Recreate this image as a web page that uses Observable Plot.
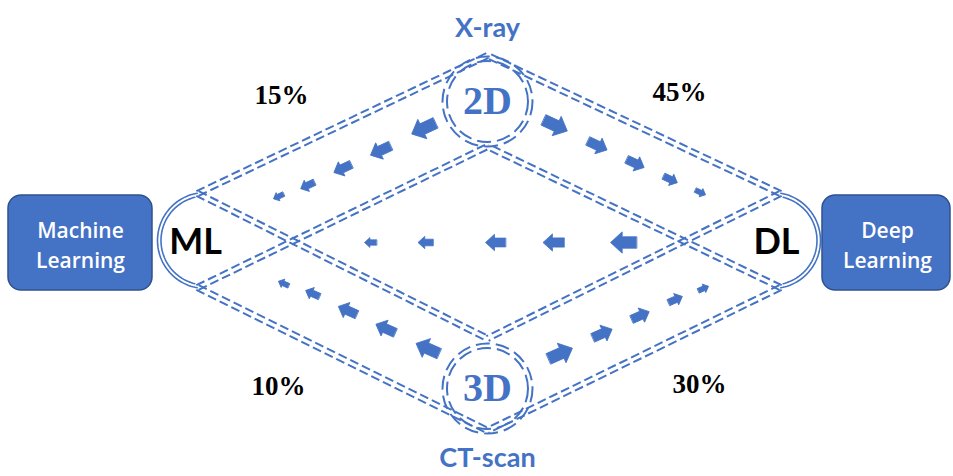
<!DOCTYPE html>
<html><head><meta charset="utf-8">
<script src="https://cdn.jsdelivr.net/npm/d3@7"></script>
<script src="https://cdn.jsdelivr.net/npm/@observablehq/plot@0.6"></script>
<style>body{margin:0;background:#fff}#chart svg{display:block}</style>
</head><body><div id="chart"></div>
<script>
// ---- content ----
const boxLabels = ["Machine\nLearning", "Deep\nLearning"];
const hubLabels = ["ML", "DL"];
const modalityLabels = ["2D", "3D"];
const sourceLabels = ["X-ray", "CT-scan"];
const shareLabels = ["15%", "45%", "10%", "30%"];
// arrow sizes per flow (largest near the source)
const flowTopLeft = [26, 22, 19, 15, 11];
const flowTopRight = [26, 21, 19, 15, 11];
const flowMiddle = [26, 21, 20, 15, 12];
const flowBottomLeft = [25, 21, 20, 15, 11];
const flowBottomRight = [26, 21, 19, 15, 11];

// ---- layout (pixel positions in a 953x476 frame) ----
const BLUE = "#4472C4";
const boxPos = [[8, 152, 195, 290], [822, 950, 195, 290]];
const boxTextPos = [[80, 243], [887, 243]];
const hubPos = [[195, 242], [776, 242]];
const modalityPos = [[487, 101], [487, 388]];
const sourcePos = [[487, 28], [487, 458]];
const sharePos = [[281, 95], [679, 92], [278, 386], [699, 384]];
const P = {mlTop: [197, 193], mlBot: [197, 287], dlTop: [780, 193], dlBot: [780, 287],
           d2Top: [487, 55], d2Bot: [487, 146], d3Top: [487, 338], d3Bot: [487, 430]};
const segments = [["mlTop","d2Top"],["mlTop","d3Top"],["mlBot","d3Bot"],["mlBot","d2Bot"],
                  ["dlTop","d2Top"],["dlTop","d3Top"],["dlBot","d2Bot"],["dlBot","d3Bot"]];
const flowPos = {
  tl: [[423,128],[380,150],[342,168],[307,185],[278,196]],
  tr: [[555,125],[597,145],[635,163],[670,179],[700,192]],
  md: [[623,242],[553,242],[495,242],[425,242],[370,242]],
  bl: [[427,348],[385,328],[347,310],[312,293],[283,283]],
  br: [[560,353],[602,333],[640,315],[675,299],[703,288]]
};
const flowAngle = {tl: 245, tr: 115, md: 270, bl: 294, br: 66};

// ---- derived geometry ----
const links = [];
for (const [a, b] of segments) {
  const [x1, y1] = P[a], [x2, y2] = P[b];
  const len = Math.hypot(x2 - x1, y2 - y1), nx = -(y2 - y1) / len, ny = (x2 - x1) / len;
  for (const o of [-2.6, 2.6]) links.push({x1: x1 + nx*o, y1: y1 + ny*o, x2: x2 + nx*o, y2: y2 + ny*o});
}
function arc(cx, cy, r, a0, a1, id) {
  const pts = [];
  for (let i = 0; i <= 60; i++) {
    const t = (a0 + (a1 - a0) * i / 60) * Math.PI / 180;
    pts.push({x: cx + r * Math.cos(t), y: cy + r * Math.sin(t), id});
  }
  return pts;
}
const arcs = [
  ...arc(205, 240, 48, 100, 260, "a"), ...arc(205, 240, 44.5, 104, 256, "b"),
  ...arc(772, 240, 48, -80, 80, "c"), ...arc(772, 240, 44.5, -76, 76, "d")
];
const flows = [];
for (const [k, sizes] of [["tl", flowTopLeft], ["tr", flowTopRight], ["md", flowMiddle], ["bl", flowBottomLeft], ["br", flowBottomRight]]) {
  sizes.forEach((s, i) => flows.push({x: flowPos[k][i][0], y: flowPos[k][i][1], length: s, rotate: flowAngle[k]}));
}
const blockArrow = {
  draw(ctx, l) {
    const w = l * 0.44, hw = l * 0.82, h = l * 0.45;
    ctx.moveTo(-w/2, 0); ctx.lineTo(-w/2, -(l-h)); ctx.lineTo(-hw/2, -(l-h)); ctx.lineTo(0, -l);
    ctx.lineTo(hw/2, -(l-h)); ctx.lineTo(w/2, -(l-h)); ctx.lineTo(w/2, 0); ctx.closePath();
  }
};

const boxes = boxLabels.map((t, i) => ({x1: boxPos[i][0], x2: boxPos[i][1], y1: boxPos[i][2], y2: boxPos[i][3], label: t, tx: boxTextPos[i][0], ty: boxTextPos[i][1]}));
const hubs = hubLabels.map((t, i) => ({x: hubPos[i][0], y: hubPos[i][1], label: t}));
const mods = modalityLabels.map((t, i) => ({x: modalityPos[i][0], y: modalityPos[i][1], label: t}));
const srcs = sourceLabels.map((t, i) => ({x: sourcePos[i][0], y: sourcePos[i][1], label: t}));
const shares = shareLabels.map((t, i) => ({x: sharePos[i][0], y: sharePos[i][1], label: t}));

const chart = Plot.plot({
  width: 953, height: 476, margin: 0,
  x: {domain: [0, 953], range: [0, 953], axis: null},
  y: {domain: [0, 476], range: [0, 476], axis: null},
  length: {type: "identity"},
  style: {background: "#fff"},
  marks: [
    Plot.link(links, {x1: "x1", y1: "y1", x2: "x2", y2: "y2", stroke: BLUE, strokeWidth: 2, strokeDasharray: "9,4"}),
    Plot.line(arcs, {x: "x", y: "y", z: "id", stroke: BLUE, strokeWidth: 1.6}),
    Plot.dot(mods, {x: "x", y: "y", r: 45, stroke: BLUE, strokeWidth: 2, strokeDasharray: "14,6"}),
    Plot.dot(mods, {x: "x", y: "y", r: 40.5, stroke: BLUE, strokeWidth: 2, strokeDasharray: "14,6"}),
    Plot.vector(flows, {x: "x", y: "y", length: "length", rotate: "rotate", shape: blockArrow, fill: BLUE, stroke: BLUE, strokeWidth: 0.8, anchor: "middle"}),
    Plot.rect(boxes, {x1: "x1", x2: "x2", y1: "y1", y2: "y2", rx: 13, fill: BLUE, stroke: "#2F528F", strokeWidth: 1.5}),
    Plot.text(boxes, {x: "tx", y: "ty", text: "label", fill: "#fff", fontSize: 21, fontWeight: 600, fontFamily: "Open Sans", lineHeight: 1.45}),
    Plot.text(hubs, {x: "x", y: "y", text: "label", fill: "#000", fontSize: 36, fontWeight: "bold", fontFamily: "Lato"}),
    Plot.text(mods, {x: "x", y: "y", text: "label", fill: BLUE, fontSize: 40, fontWeight: "bold", fontFamily: "Liberation Serif"}),
    Plot.text(srcs, {x: "x", y: "y", text: "label", fill: BLUE, fontSize: 27, fontWeight: "bold", fontFamily: "Lato"}),
    Plot.text(shares, {x: "x", y: "y", text: "label", fill: "#000", fontSize: 27, fontWeight: "bold", fontFamily: "Liberation Serif"})
  ]
});
document.getElementById("chart").append(chart);
</script>
</body></html>
